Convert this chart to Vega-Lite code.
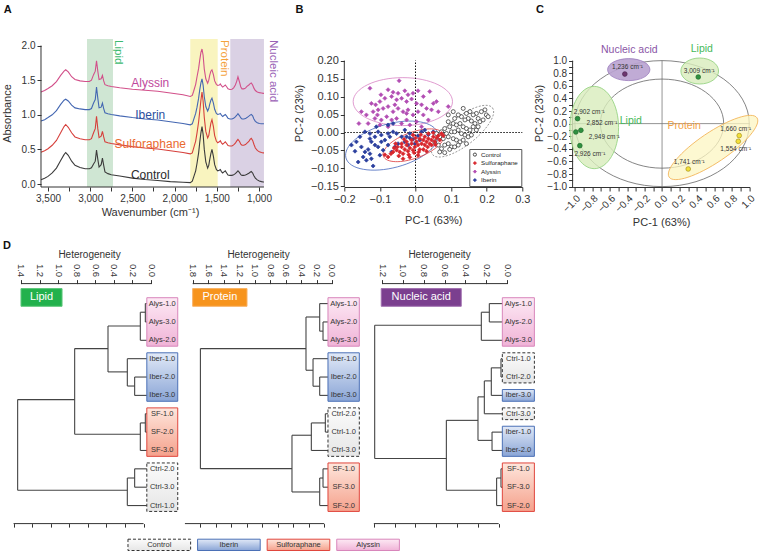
{
"background":"white",
"padding":{"left":1,"top":3,"right":2,"bottom":2},
"config":{
 "font":"Liberation Sans",
 "view":{"stroke":null},
 "axis":{"labelColor":"#333","titleColor":"#333","domainColor":"#333","tickColor":"#333","titleFontWeight":"normal","labelFontSize":10,"titleFontSize":11,"grid":false,"tickSize":4,"labelFlush":false,"labelOverlap":false,"labelPadding":2},
 "legend":{"orient":"bottom-right","offset":1,"strokeColor":"#555","padding":2.5,"labelFontSize":6.2,"symbolSize":10,"rowPadding":0.5,"labelOffset":3,"symbolStrokeWidth":0.8,"fillColor":"white","labelColor":"#222"}
},
"datasets":{
"spectra":[
{"s":"Ctrl","w":3583,"a":0.063},{"s":"Ctrl","w":3540,"a":0.085},{"s":"Ctrl","w":3500,"a":0.11},{"s":"Ctrl","w":3450,"a":0.16},{"s":"Ctrl","w":3400,"a":0.23},{"s":"Ctrl","w":3350,"a":0.34},{"s":"Ctrl","w":3310,"a":0.425},{"s":"Ctrl","w":3290,"a":0.455},{"s":"Ctrl","w":3260,"a":0.415},{"s":"Ctrl","w":3220,"a":0.33},{"s":"Ctrl","w":3180,"a":0.27},{"s":"Ctrl","w":3120,"a":0.24},{"s":"Ctrl","w":3060,"a":0.22},{"s":"Ctrl","w":3010,"a":0.22},{"s":"Ctrl","w":2985,"a":0.235},{"s":"Ctrl","w":2960,"a":0.29},{"s":"Ctrl","w":2940,"a":0.33},{"s":"Ctrl","w":2925,"a":0.49},{"s":"Ctrl","w":2910,"a":0.36},{"s":"Ctrl","w":2895,"a":0.245},{"s":"Ctrl","w":2870,"a":0.28},{"s":"Ctrl","w":2855,"a":0.375},{"s":"Ctrl","w":2840,"a":0.27},{"s":"Ctrl","w":2825,"a":0.175},{"s":"Ctrl","w":2790,"a":0.15},{"s":"Ctrl","w":2750,"a":0.135},{"s":"Ctrl","w":2650,"a":0.115},{"s":"Ctrl","w":2500,"a":0.085},{"s":"Ctrl","w":2350,"a":0.065},{"s":"Ctrl","w":2200,"a":0.05},{"s":"Ctrl","w":2050,"a":0.035},{"s":"Ctrl","w":1900,"a":0.025},{"s":"Ctrl","w":1814,"a":0.02},{"s":"Ctrl","w":1790,"a":0.04},{"s":"Ctrl","w":1774,"a":0.1},{"s":"Ctrl","w":1750,"a":0.19},{"s":"Ctrl","w":1734,"a":0.3},{"s":"Ctrl","w":1715,"a":0.45},{"s":"Ctrl","w":1702,"a":0.6},{"s":"Ctrl","w":1688,"a":0.74},{"s":"Ctrl","w":1675,"a":0.83},{"s":"Ctrl","w":1662,"a":0.72},{"s":"Ctrl","w":1648,"a":0.5},{"s":"Ctrl","w":1630,"a":0.32},{"s":"Ctrl","w":1608,"a":0.23},{"s":"Ctrl","w":1595,"a":0.27},{"s":"Ctrl","w":1584,"a":0.35},{"s":"Ctrl","w":1570,"a":0.44},{"s":"Ctrl","w":1557,"a":0.5},{"s":"Ctrl","w":1540,"a":0.4},{"s":"Ctrl","w":1525,"a":0.28},{"s":"Ctrl","w":1505,"a":0.21},{"s":"Ctrl","w":1489,"a":0.19},{"s":"Ctrl","w":1470,"a":0.2},{"s":"Ctrl","w":1458,"a":0.21},{"s":"Ctrl","w":1445,"a":0.18},{"s":"Ctrl","w":1430,"a":0.16},{"s":"Ctrl","w":1415,"a":0.175},{"s":"Ctrl","w":1399,"a":0.19},{"s":"Ctrl","w":1383,"a":0.16},{"s":"Ctrl","w":1367,"a":0.13},{"s":"Ctrl","w":1345,"a":0.125},{"s":"Ctrl","w":1320,"a":0.125},{"s":"Ctrl","w":1300,"a":0.135},{"s":"Ctrl","w":1280,"a":0.15},{"s":"Ctrl","w":1265,"a":0.17},{"s":"Ctrl","w":1249,"a":0.19},{"s":"Ctrl","w":1230,"a":0.165},{"s":"Ctrl","w":1215,"a":0.135},{"s":"Ctrl","w":1201,"a":0.125},{"s":"Ctrl","w":1180,"a":0.125},{"s":"Ctrl","w":1160,"a":0.13},{"s":"Ctrl","w":1142,"a":0.14},{"s":"Ctrl","w":1120,"a":0.155},{"s":"Ctrl","w":1105,"a":0.17},{"s":"Ctrl","w":1091,"a":0.18},{"s":"Ctrl","w":1075,"a":0.16},{"s":"Ctrl","w":1060,"a":0.12},{"s":"Ctrl","w":1043,"a":0.085},{"s":"Ctrl","w":1020,"a":0.06},{"s":"Ctrl","w":996,"a":0.045},{"s":"Ctrl","w":970,"a":0.035},{"s":"Ctrl","w":950,"a":0.03},{"s":"Ctrl","w":941,"a":0.03},
{"s":"SF","w":3583,"a":0.46},{"s":"SF","w":3540,"a":0.48},{"s":"SF","w":3500,"a":0.51},{"s":"SF","w":3450,"a":0.56},{"s":"SF","w":3400,"a":0.63},{"s":"SF","w":3350,"a":0.74},{"s":"SF","w":3310,"a":0.83},{"s":"SF","w":3290,"a":0.86},{"s":"SF","w":3260,"a":0.82},{"s":"SF","w":3220,"a":0.74},{"s":"SF","w":3180,"a":0.68},{"s":"SF","w":3120,"a":0.655},{"s":"SF","w":3060,"a":0.64},{"s":"SF","w":3010,"a":0.64},{"s":"SF","w":2985,"a":0.655},{"s":"SF","w":2960,"a":0.74},{"s":"SF","w":2940,"a":0.8},{"s":"SF","w":2925,"a":0.98},{"s":"SF","w":2910,"a":0.8},{"s":"SF","w":2895,"a":0.67},{"s":"SF","w":2870,"a":0.69},{"s":"SF","w":2855,"a":0.76},{"s":"SF","w":2840,"a":0.68},{"s":"SF","w":2825,"a":0.61},{"s":"SF","w":2790,"a":0.595},{"s":"SF","w":2750,"a":0.585},{"s":"SF","w":2650,"a":0.565},{"s":"SF","w":2500,"a":0.54},{"s":"SF","w":2350,"a":0.52},{"s":"SF","w":2200,"a":0.505},{"s":"SF","w":2050,"a":0.48},{"s":"SF","w":1900,"a":0.455},{"s":"SF","w":1814,"a":0.435},{"s":"SF","w":1790,"a":0.45},{"s":"SF","w":1774,"a":0.52},{"s":"SF","w":1750,"a":0.62},{"s":"SF","w":1734,"a":0.74},{"s":"SF","w":1715,"a":0.9},{"s":"SF","w":1702,"a":1.05},{"s":"SF","w":1688,"a":1.21},{"s":"SF","w":1675,"a":1.33},{"s":"SF","w":1662,"a":1.2},{"s":"SF","w":1648,"a":0.96},{"s":"SF","w":1630,"a":0.76},{"s":"SF","w":1608,"a":0.665},{"s":"SF","w":1595,"a":0.7},{"s":"SF","w":1584,"a":0.78},{"s":"SF","w":1570,"a":0.88},{"s":"SF","w":1557,"a":0.93},{"s":"SF","w":1540,"a":0.83},{"s":"SF","w":1525,"a":0.7},{"s":"SF","w":1505,"a":0.62},{"s":"SF","w":1489,"a":0.595},{"s":"SF","w":1470,"a":0.61},{"s":"SF","w":1458,"a":0.625},{"s":"SF","w":1445,"a":0.595},{"s":"SF","w":1430,"a":0.575},{"s":"SF","w":1415,"a":0.59},{"s":"SF","w":1399,"a":0.61},{"s":"SF","w":1383,"a":0.585},{"s":"SF","w":1367,"a":0.555},{"s":"SF","w":1345,"a":0.55},{"s":"SF","w":1320,"a":0.55},{"s":"SF","w":1300,"a":0.565},{"s":"SF","w":1280,"a":0.59},{"s":"SF","w":1265,"a":0.62},{"s":"SF","w":1249,"a":0.645},{"s":"SF","w":1230,"a":0.615},{"s":"SF","w":1215,"a":0.575},{"s":"SF","w":1201,"a":0.56},{"s":"SF","w":1180,"a":0.56},{"s":"SF","w":1160,"a":0.57},{"s":"SF","w":1142,"a":0.59},{"s":"SF","w":1120,"a":0.615},{"s":"SF","w":1105,"a":0.645},{"s":"SF","w":1091,"a":0.66},{"s":"SF","w":1075,"a":0.63},{"s":"SF","w":1060,"a":0.575},{"s":"SF","w":1043,"a":0.52},{"s":"SF","w":1020,"a":0.485},{"s":"SF","w":996,"a":0.465},{"s":"SF","w":970,"a":0.455},{"s":"SF","w":950,"a":0.45},{"s":"SF","w":941,"a":0.45},
{"s":"Iber","w":3583,"a":0.91},{"s":"Iber","w":3540,"a":0.93},{"s":"Iber","w":3500,"a":0.96},{"s":"Iber","w":3450,"a":1.0},{"s":"Iber","w":3400,"a":1.06},{"s":"Iber","w":3350,"a":1.15},{"s":"Iber","w":3310,"a":1.21},{"s":"Iber","w":3290,"a":1.225},{"s":"Iber","w":3260,"a":1.2},{"s":"Iber","w":3220,"a":1.14},{"s":"Iber","w":3180,"a":1.1},{"s":"Iber","w":3120,"a":1.085},{"s":"Iber","w":3060,"a":1.075},{"s":"Iber","w":3010,"a":1.075},{"s":"Iber","w":2985,"a":1.09},{"s":"Iber","w":2960,"a":1.17},{"s":"Iber","w":2940,"a":1.22},{"s":"Iber","w":2925,"a":1.4},{"s":"Iber","w":2910,"a":1.24},{"s":"Iber","w":2895,"a":1.1},{"s":"Iber","w":2870,"a":1.11},{"s":"Iber","w":2855,"a":1.17},{"s":"Iber","w":2840,"a":1.09},{"s":"Iber","w":2825,"a":1.03},{"s":"Iber","w":2790,"a":1.015},{"s":"Iber","w":2750,"a":1.005},{"s":"Iber","w":2650,"a":0.985},{"s":"Iber","w":2500,"a":0.96},{"s":"Iber","w":2350,"a":0.94},{"s":"Iber","w":2200,"a":0.925},{"s":"Iber","w":2050,"a":0.9},{"s":"Iber","w":1900,"a":0.875},{"s":"Iber","w":1814,"a":0.855},{"s":"Iber","w":1790,"a":0.87},{"s":"Iber","w":1774,"a":0.93},{"s":"Iber","w":1750,"a":1.02},{"s":"Iber","w":1734,"a":1.11},{"s":"Iber","w":1715,"a":1.24},{"s":"Iber","w":1702,"a":1.36},{"s":"Iber","w":1688,"a":1.46},{"s":"Iber","w":1675,"a":1.52},{"s":"Iber","w":1662,"a":1.43},{"s":"Iber","w":1648,"a":1.26},{"s":"Iber","w":1630,"a":1.12},{"s":"Iber","w":1608,"a":1.055},{"s":"Iber","w":1595,"a":1.09},{"s":"Iber","w":1584,"a":1.15},{"s":"Iber","w":1570,"a":1.21},{"s":"Iber","w":1557,"a":1.24},{"s":"Iber","w":1540,"a":1.17},{"s":"Iber","w":1525,"a":1.08},{"s":"Iber","w":1505,"a":1.02},{"s":"Iber","w":1489,"a":1.005},{"s":"Iber","w":1470,"a":1.01},{"s":"Iber","w":1458,"a":1.02},{"s":"Iber","w":1445,"a":0.995},{"s":"Iber","w":1430,"a":0.975},{"s":"Iber","w":1415,"a":0.99},{"s":"Iber","w":1399,"a":1.005},{"s":"Iber","w":1383,"a":0.98},{"s":"Iber","w":1367,"a":0.95},{"s":"Iber","w":1345,"a":0.94},{"s":"Iber","w":1320,"a":0.94},{"s":"Iber","w":1300,"a":0.95},{"s":"Iber","w":1280,"a":0.97},{"s":"Iber","w":1265,"a":0.99},{"s":"Iber","w":1249,"a":1.015},{"s":"Iber","w":1230,"a":0.985},{"s":"Iber","w":1215,"a":0.955},{"s":"Iber","w":1201,"a":0.94},{"s":"Iber","w":1180,"a":0.94},{"s":"Iber","w":1160,"a":0.945},{"s":"Iber","w":1142,"a":0.96},{"s":"Iber","w":1120,"a":0.98},{"s":"Iber","w":1105,"a":0.995},{"s":"Iber","w":1091,"a":1.005},{"s":"Iber","w":1075,"a":0.985},{"s":"Iber","w":1060,"a":0.94},{"s":"Iber","w":1043,"a":0.905},{"s":"Iber","w":1020,"a":0.885},{"s":"Iber","w":996,"a":0.875},{"s":"Iber","w":970,"a":0.87},{"s":"Iber","w":950,"a":0.87},{"s":"Iber","w":941,"a":0.87},
{"s":"Alys","w":3583,"a":1.33},{"s":"Alys","w":3540,"a":1.35},{"s":"Alys","w":3500,"a":1.38},{"s":"Alys","w":3450,"a":1.42},{"s":"Alys","w":3400,"a":1.48},{"s":"Alys","w":3350,"a":1.57},{"s":"Alys","w":3310,"a":1.63},{"s":"Alys","w":3290,"a":1.65},{"s":"Alys","w":3260,"a":1.62},{"s":"Alys","w":3220,"a":1.55},{"s":"Alys","w":3180,"a":1.51},{"s":"Alys","w":3120,"a":1.49},{"s":"Alys","w":3060,"a":1.48},{"s":"Alys","w":3010,"a":1.48},{"s":"Alys","w":2985,"a":1.5},{"s":"Alys","w":2960,"a":1.58},{"s":"Alys","w":2940,"a":1.63},{"s":"Alys","w":2925,"a":1.78},{"s":"Alys","w":2910,"a":1.63},{"s":"Alys","w":2895,"a":1.51},{"s":"Alys","w":2870,"a":1.52},{"s":"Alys","w":2855,"a":1.57},{"s":"Alys","w":2840,"a":1.49},{"s":"Alys","w":2825,"a":1.435},{"s":"Alys","w":2790,"a":1.42},{"s":"Alys","w":2750,"a":1.41},{"s":"Alys","w":2650,"a":1.39},{"s":"Alys","w":2500,"a":1.37},{"s":"Alys","w":2350,"a":1.355},{"s":"Alys","w":2200,"a":1.34},{"s":"Alys","w":2050,"a":1.315},{"s":"Alys","w":1900,"a":1.29},{"s":"Alys","w":1814,"a":1.265},{"s":"Alys","w":1790,"a":1.28},{"s":"Alys","w":1774,"a":1.34},{"s":"Alys","w":1750,"a":1.44},{"s":"Alys","w":1734,"a":1.55},{"s":"Alys","w":1715,"a":1.67},{"s":"Alys","w":1702,"a":1.79},{"s":"Alys","w":1688,"a":1.9},{"s":"Alys","w":1675,"a":1.95},{"s":"Alys","w":1662,"a":1.86},{"s":"Alys","w":1648,"a":1.66},{"s":"Alys","w":1630,"a":1.52},{"s":"Alys","w":1608,"a":1.455},{"s":"Alys","w":1595,"a":1.5},{"s":"Alys","w":1584,"a":1.57},{"s":"Alys","w":1570,"a":1.63},{"s":"Alys","w":1557,"a":1.65},{"s":"Alys","w":1540,"a":1.58},{"s":"Alys","w":1525,"a":1.49},{"s":"Alys","w":1505,"a":1.44},{"s":"Alys","w":1489,"a":1.425},{"s":"Alys","w":1470,"a":1.43},{"s":"Alys","w":1458,"a":1.445},{"s":"Alys","w":1445,"a":1.42},{"s":"Alys","w":1430,"a":1.4},{"s":"Alys","w":1415,"a":1.415},{"s":"Alys","w":1399,"a":1.43},{"s":"Alys","w":1383,"a":1.405},{"s":"Alys","w":1367,"a":1.375},{"s":"Alys","w":1345,"a":1.365},{"s":"Alys","w":1320,"a":1.37},{"s":"Alys","w":1300,"a":1.39},{"s":"Alys","w":1280,"a":1.43},{"s":"Alys","w":1265,"a":1.48},{"s":"Alys","w":1249,"a":1.55},{"s":"Alys","w":1230,"a":1.47},{"s":"Alys","w":1215,"a":1.4},{"s":"Alys","w":1201,"a":1.375},{"s":"Alys","w":1180,"a":1.375},{"s":"Alys","w":1160,"a":1.385},{"s":"Alys","w":1142,"a":1.41},{"s":"Alys","w":1120,"a":1.43},{"s":"Alys","w":1105,"a":1.45},{"s":"Alys","w":1091,"a":1.46},{"s":"Alys","w":1075,"a":1.43},{"s":"Alys","w":1060,"a":1.385},{"s":"Alys","w":1043,"a":1.35},{"s":"Alys","w":1020,"a":1.33},{"s":"Alys","w":996,"a":1.32},{"s":"Alys","w":970,"a":1.315},{"s":"Alys","w":950,"a":1.31},{"s":"Alys","w":941,"a":1.31}
],
"bands":[{"b":"Lipid","x1":3038,"x2":2730},{"b":"Protein","x1":1814,"x2":1489},{"b":"Nucleic acid","x1":1340,"x2":941}],
"bandLabels":[{"t":"Lipid","w":2670,"a":2.08},{"t":"Protein","w":1418,"a":2.08},{"t":"Nucleic acid","w":836,"a":2.08}],
"seriesLabels":[{"t":"Alyssin","w":2288,"a":1.46},{"t":"Iberin","w":2288,"a":1.0},{"t":"Sulforaphane","w":2288,"a":0.584},{"t":"Control","w":2288,"a":0.136}],
"pca":[
{"g":"Alyssin","x":-0.046,"y":0.144},{"g":"Alyssin","x":-0.128,"y":0.123},{"g":"Alyssin","x":-0.077,"y":0.119},{"g":"Alyssin","x":-0.063,"y":0.112},{"g":"Alyssin","x":-0.049,"y":0.109},{"g":"Alyssin","x":-0.03,"y":0.116},{"g":"Alyssin","x":-0.021,"y":0.105},{"g":"Alyssin","x":-0.007,"y":0.109},{"g":"Alyssin","x":0.007,"y":0.116},{"g":"Alyssin","x":0.022,"y":0.1},{"g":"Alyssin","x":0.04,"y":0.114},{"g":"Alyssin","x":0.05,"y":0.081},{"g":"Alyssin","x":0.059,"y":0.086},{"g":"Alyssin","x":0.092,"y":0.072},{"g":"Alyssin","x":-0.124,"y":0.081},{"g":"Alyssin","x":-0.112,"y":0.077},{"g":"Alyssin","x":-0.1,"y":0.086},{"g":"Alyssin","x":-0.086,"y":0.095},{"g":"Alyssin","x":-0.067,"y":0.1},{"g":"Alyssin","x":-0.053,"y":0.091},{"g":"Alyssin","x":-0.039,"y":0.095},{"g":"Alyssin","x":-0.025,"y":0.086},{"g":"Alyssin","x":-0.011,"y":0.093},{"g":"Alyssin","x":0.003,"y":0.081},{"g":"Alyssin","x":0.017,"y":0.077},{"g":"Alyssin","x":0.031,"y":0.067},{"g":"Alyssin","x":0.045,"y":0.063},{"g":"Alyssin","x":0.064,"y":0.058},{"g":"Alyssin","x":-0.152,"y":0.058},{"g":"Alyssin","x":-0.138,"y":0.049},{"g":"Alyssin","x":-0.119,"y":0.058},{"g":"Alyssin","x":-0.105,"y":0.063},{"g":"Alyssin","x":-0.091,"y":0.067},{"g":"Alyssin","x":-0.077,"y":0.072},{"g":"Alyssin","x":-0.063,"y":0.058},{"g":"Alyssin","x":-0.049,"y":0.067},{"g":"Alyssin","x":-0.035,"y":0.058},{"g":"Alyssin","x":-0.021,"y":0.063},{"g":"Alyssin","x":-0.007,"y":0.049},{"g":"Alyssin","x":0.007,"y":0.058},{"g":"Alyssin","x":0.022,"y":0.049},{"g":"Alyssin","x":0.036,"y":0.035},{"g":"Alyssin","x":-0.159,"y":0.025},{"g":"Alyssin","x":-0.133,"y":0.025},{"g":"Alyssin","x":-0.114,"y":0.039},{"g":"Alyssin","x":-0.096,"y":0.035},{"g":"Alyssin","x":-0.081,"y":0.044},{"g":"Alyssin","x":-0.067,"y":0.035},{"g":"Alyssin","x":-0.053,"y":0.039},{"g":"Alyssin","x":-0.039,"y":0.025},{"g":"Alyssin","x":-0.025,"y":0.035},{"g":"Alyssin","x":-0.016,"y":0.021},{"g":"Alyssin","x":0.003,"y":0.03},{"g":"Alyssin","x":0.017,"y":0.016},{"g":"Alyssin","x":-0.077,"y":0.016},{"g":"Alyssin","x":-0.1,"y":0.021},{"g":"Alyssin","x":-0.025,"y":0.053},{"g":"Alyssin","x":-0.058,"y":0.077},{"g":"Alyssin","x":-0.097,"y":0.105},{"g":"Alyssin","x":-0.107,"y":0.049},
{"g":"Iberin","x":-0.161,"y":-0.082},{"g":"Iberin","x":-0.147,"y":-0.068},{"g":"Iberin","x":-0.142,"y":-0.054},{"g":"Iberin","x":-0.133,"y":-0.047},{"g":"Iberin","x":-0.128,"y":-0.059},{"g":"Iberin","x":-0.124,"y":-0.073},{"g":"Iberin","x":-0.119,"y":-0.093},{"g":"Iberin","x":-0.138,"y":-0.077},{"g":"Iberin","x":-0.152,"y":-0.04},{"g":"Iberin","x":-0.166,"y":-0.026},{"g":"Iberin","x":-0.156,"y":-0.012},{"g":"Iberin","x":-0.142,"y":0.002},{"g":"Iberin","x":-0.128,"y":-0.003},{"g":"Iberin","x":-0.114,"y":-0.012},{"g":"Iberin","x":-0.105,"y":0.002},{"g":"Iberin","x":-0.096,"y":-0.007},{"g":"Iberin","x":-0.086,"y":-0.021},{"g":"Iberin","x":-0.072,"y":-0.012},{"g":"Iberin","x":-0.063,"y":0.002},{"g":"Iberin","x":-0.053,"y":-0.003},{"g":"Iberin","x":-0.039,"y":-0.012},{"g":"Iberin","x":-0.03,"y":0.007},{"g":"Iberin","x":-0.016,"y":-0.003},{"g":"Iberin","x":-0.007,"y":-0.019},{"g":"Iberin","x":0.007,"y":-0.009},{"g":"Iberin","x":0.017,"y":0.002},{"g":"Iberin","x":0.026,"y":0.007},{"g":"Iberin","x":0.036,"y":-0.006},{"g":"Iberin","x":0.05,"y":0.002},{"g":"Iberin","x":-0.105,"y":-0.04},{"g":"Iberin","x":-0.091,"y":-0.049},{"g":"Iberin","x":-0.077,"y":-0.035},{"g":"Iberin","x":-0.067,"y":-0.054},{"g":"Iberin","x":-0.1,"y":-0.063},{"g":"Iberin","x":-0.114,"y":-0.035},{"g":"Iberin","x":-0.124,"y":-0.026},{"g":"Iberin","x":-0.128,"y":-0.017},{"g":"Iberin","x":-0.077,"y":0.021},{"g":"Iberin","x":-0.063,"y":0.025},{"g":"Iberin","x":-0.11,"y":0.016},{"g":"Iberin","x":-0.18,"y":-0.035},{"g":"Iberin","x":-0.17,"y":-0.052},{"g":"Iberin","x":-0.03,"y":-0.026},{"g":"Iberin","x":-0.021,"y":-0.035},{"g":"Iberin","x":-0.049,"y":-0.031},{"g":"Iberin","x":-0.002,"y":-0.031},{"g":"Iberin","x":-0.016,"y":-0.015},{"g":"Iberin","x":-0.077,"y":-0.003},{"g":"Iberin","x":-0.096,"y":-0.026},{"g":"Iberin","x":-0.058,"y":-0.04},{"g":"Iberin","x":-0.025,"y":-0.012},{"g":"Iberin","x":0.012,"y":-0.021},
{"g":"Control","x":0.195,"y":0.063},{"g":"Control","x":0.199,"y":0.049},{"g":"Control","x":0.185,"y":0.058},{"g":"Control","x":0.171,"y":0.053},{"g":"Control","x":0.176,"y":0.039},{"g":"Control","x":0.162,"y":0.049},{"g":"Control","x":0.153,"y":0.058},{"g":"Control","x":0.143,"y":0.053},{"g":"Control","x":0.148,"y":0.039},{"g":"Control","x":0.157,"y":0.032},{"g":"Control","x":0.167,"y":0.025},{"g":"Control","x":0.181,"y":0.03},{"g":"Control","x":0.19,"y":0.035},{"g":"Control","x":0.204,"y":0.044},{"g":"Control","x":0.139,"y":0.035},{"g":"Control","x":0.129,"y":0.044},{"g":"Control","x":0.12,"y":0.049},{"g":"Control","x":0.11,"y":0.039},{"g":"Control","x":0.106,"y":0.025},{"g":"Control","x":0.115,"y":0.021},{"g":"Control","x":0.125,"y":0.025},{"g":"Control","x":0.134,"y":0.016},{"g":"Control","x":0.143,"y":0.011},{"g":"Control","x":0.153,"y":0.007},{"g":"Control","x":0.162,"y":0.016},{"g":"Control","x":0.171,"y":0.007},{"g":"Control","x":0.092,"y":0.03},{"g":"Control","x":0.096,"y":0.016},{"g":"Control","x":0.101,"y":0.002},{"g":"Control","x":0.11,"y":0.002},{"g":"Control","x":0.12,"y":0.007},{"g":"Control","x":0.129,"y":-0.003},{"g":"Control","x":0.139,"y":-0.007},{"g":"Control","x":0.148,"y":-0.012},{"g":"Control","x":0.157,"y":-0.007},{"g":"Control","x":0.082,"y":0.011},{"g":"Control","x":0.087,"y":-0.003},{"g":"Control","x":0.073,"y":0.002},{"g":"Control","x":0.068,"y":-0.012},{"g":"Control","x":0.078,"y":-0.017},{"g":"Control","x":0.092,"y":-0.012},{"g":"Control","x":0.106,"y":-0.017},{"g":"Control","x":0.115,"y":-0.021},{"g":"Control","x":0.125,"y":-0.026},{"g":"Control","x":0.134,"y":-0.021},{"g":"Control","x":0.143,"y":-0.031},{"g":"Control","x":0.092,"y":-0.031},{"g":"Control","x":0.101,"y":-0.04},{"g":"Control","x":0.082,"y":-0.035},{"g":"Control","x":0.073,"y":-0.045},{"g":"Control","x":0.064,"y":-0.035},{"g":"Control","x":0.068,"y":-0.054},{"g":"Control","x":0.082,"y":-0.056},{"g":"Control","x":0.096,"y":-0.047},{"g":"Control","x":0.11,"y":-0.04},{"g":"Control","x":0.12,"y":-0.035},{"g":"Control","x":0.054,"y":-0.026},{"g":"Control","x":0.106,"y":0.058},{"g":"Control","x":0.134,"y":0.067},{"g":"Control","x":0.176,"y":0.016},{"g":"Control","x":0.059,"y":-0.003},{"g":"Control","x":0.092,"y":0.049},
{"g":"Sulforaphane","x":-0.077,"y":-0.068},{"g":"Sulforaphane","x":-0.063,"y":-0.054},{"g":"Sulforaphane","x":-0.053,"y":-0.049},{"g":"Sulforaphane","x":-0.044,"y":-0.054},{"g":"Sulforaphane","x":-0.039,"y":-0.04},{"g":"Sulforaphane","x":-0.035,"y":-0.059},{"g":"Sulforaphane","x":-0.03,"y":-0.047},{"g":"Sulforaphane","x":-0.025,"y":-0.035},{"g":"Sulforaphane","x":-0.021,"y":-0.052},{"g":"Sulforaphane","x":-0.016,"y":-0.043},{"g":"Sulforaphane","x":-0.011,"y":-0.031},{"g":"Sulforaphane","x":-0.007,"y":-0.049},{"g":"Sulforaphane","x":-0.002,"y":-0.04},{"g":"Sulforaphane","x":0.003,"y":-0.026},{"g":"Sulforaphane","x":0.007,"y":-0.035},{"g":"Sulforaphane","x":0.012,"y":-0.047},{"g":"Sulforaphane","x":0.017,"y":-0.031},{"g":"Sulforaphane","x":0.022,"y":-0.021},{"g":"Sulforaphane","x":0.026,"y":-0.035},{"g":"Sulforaphane","x":0.031,"y":-0.026},{"g":"Sulforaphane","x":0.036,"y":-0.017},{"g":"Sulforaphane","x":0.04,"y":-0.031},{"g":"Sulforaphane","x":0.045,"y":-0.021},{"g":"Sulforaphane","x":0.05,"y":-0.012},{"g":"Sulforaphane","x":0.054,"y":-0.026},{"g":"Sulforaphane","x":0.059,"y":-0.015},{"g":"Sulforaphane","x":0.064,"y":-0.009},{"g":"Sulforaphane","x":0.073,"y":-0.003},{"g":"Sulforaphane","x":-0.047,"y":-0.065},{"g":"Sulforaphane","x":-0.035,"y":-0.073},{"g":"Sulforaphane","x":-0.019,"y":-0.062},{"g":"Sulforaphane","x":-0.004,"y":-0.056},{"g":"Sulforaphane","x":0.009,"y":-0.054},{"g":"Sulforaphane","x":0.022,"y":-0.047},{"g":"Sulforaphane","x":0.034,"y":-0.04},{"g":"Sulforaphane","x":0.045,"y":-0.035},{"g":"Sulforaphane","x":0.056,"y":-0.034},{"g":"Sulforaphane","x":0.068,"y":-0.021},{"g":"Sulforaphane","x":0.026,"y":-0.012},{"g":"Sulforaphane","x":0.012,"y":-0.017},{"g":"Sulforaphane","x":0.0,"y":-0.015},{"g":"Sulforaphane","x":-0.011,"y":-0.021},{"g":"Sulforaphane","x":-0.025,"y":-0.026},{"g":"Sulforaphane","x":-0.039,"y":-0.031},{"g":"Sulforaphane","x":-0.051,"y":-0.04},{"g":"Sulforaphane","x":-0.06,"y":-0.043},{"g":"Sulforaphane","x":-0.069,"y":-0.059},{"g":"Sulforaphane","x":-0.032,"y":-0.019},{"g":"Sulforaphane","x":-0.007,"y":-0.007},{"g":"Sulforaphane","x":0.015,"y":-0.006},{"g":"Sulforaphane","x":0.036,"y":-0.003},{"g":"Sulforaphane","x":0.05,"y":-0.001},{"g":"Sulforaphane","x":0.078,"y":-0.009},{"g":"Sulforaphane","x":0.031,"y":-0.052},{"g":"Sulforaphane","x":0.007,"y":-0.063},{"g":"Sulforaphane","x":-0.016,"y":-0.069},{"g":"Sulforaphane","x":-0.086,"y":-0.062},{"g":"Sulforaphane","x":-0.056,"y":-0.031}
],
"ellB":[{"g":"Alyssin","x":-0.0356,"y":0.0859},{"g":"Iberin","x":-0.0665,"y":-0.0364},{"g":"Sulforaphane","x":-0.0056,"y":-0.0355},{"g":"Control","x":0.132,"y":0.0037}],
"ellC":[{"e":"outer","x":0,"y":0},{"e":"inner","x":0,"y":0},{"e":"nuc","x":-0.382,"y":0.857},{"e":"lipT","x":0.432,"y":0.835},{"e":"lipL","x":-0.778,"y":-0.062},{"e":"prot","x":0.585,"y":-0.379}],
"loadPts":[{"grp":"Lipid","x":-0.969,"y":0.079},{"grp":"Lipid","x":-0.931,"y":-0.106},{"grp":"Lipid","x":-0.989,"y":-0.133},{"grp":"Lipid","x":-0.943,"y":-0.35},{"grp":"Lipid","x":0.415,"y":0.74},{"grp":"Nucleic acid","x":-0.427,"y":0.787},{"grp":"Protein","x":0.885,"y":-0.19},{"grp":"Protein","x":0.874,"y":-0.281},{"grp":"Protein","x":0.3,"y":-0.72}],
"loadLabels":[{"t":"2,902 cm⁻¹","x":-0.835,"y":0.184},{"t":"2,852 cm⁻¹","x":-0.69,"y":0.016},{"t":"2,949 cm⁻¹","x":-0.663,"y":-0.213},{"t":"2,926 cm⁻¹","x":-0.828,"y":-0.482},{"t":"1,236 cm⁻¹","x":-0.396,"y":0.894},{"t":"3,009 cm⁻¹","x":0.427,"y":0.84},{"t":"1,660 cm⁻¹","x":0.846,"y":-0.08},{"t":"1,554 cm⁻¹","x":0.846,"y":-0.397},{"t":"1,741 cm⁻¹","x":0.312,"y":-0.609}],
"groupLabels":[{"t":"Nucleic acid","grp":"Nucleic acid","x":-0.376,"y":1.175},{"t":"Lipid","grp":"Lipid","x":0.456,"y":1.19},{"t":"Lipid","grp":"Lipid","x":-0.358,"y":0.048},{"t":"Protein","grp":"Protein","x":0.254,"y":-0.032}],
"tree":[
{"p":"L","x1":0,"x2":0.061,"y1":0,"y2":0},{"p":"L","x1":0,"x2":0.061,"y1":1,"y2":1},{"p":"L","x1":0.061,"x2":0.061,"y1":0,"y2":1},{"p":"L","x1":0.061,"x2":0.115,"y1":0.47,"y2":0.47},{"p":"L","x1":0,"x2":0.115,"y1":2,"y2":2},{"p":"L","x1":0.115,"x2":0.115,"y1":0.47,"y2":2},{"p":"L","x1":0.115,"x2":0.463,"y1":1.22,"y2":1.22},{"p":"L","x1":0,"x2":0.176,"y1":4,"y2":4},{"p":"L","x1":0,"x2":0.176,"y1":5,"y2":5},{"p":"L","x1":0.176,"x2":0.176,"y1":4,"y2":5},{"p":"L","x1":0.176,"x2":0.255,"y1":4.49,"y2":4.49},{"p":"L","x1":0,"x2":0.255,"y1":3,"y2":3},{"p":"L","x1":0.255,"x2":0.255,"y1":3,"y2":4.49},{"p":"L","x1":0.255,"x2":0.463,"y1":3.72,"y2":3.72},{"p":"L","x1":0.463,"x2":0.463,"y1":1.22,"y2":3.72},{"p":"L","x1":0.463,"x2":0.822,"y1":2.45,"y2":2.45},{"p":"L","x1":0,"x2":0.061,"y1":6,"y2":6},{"p":"L","x1":0,"x2":0.061,"y1":7,"y2":7},{"p":"L","x1":0.061,"x2":0.061,"y1":6,"y2":7},{"p":"L","x1":0.061,"x2":0.115,"y1":6.5,"y2":6.5},{"p":"L","x1":0,"x2":0.115,"y1":8,"y2":8},{"p":"L","x1":0.115,"x2":0.115,"y1":6.5,"y2":8},{"p":"L","x1":0.115,"x2":0.822,"y1":7.12,"y2":7.12},{"p":"L","x1":0.822,"x2":0.822,"y1":2.45,"y2":7.12},{"p":"L","x1":0.822,"x2":1.436,"y1":5.23,"y2":5.23},{"p":"L","x1":0,"x2":0.176,"y1":9,"y2":9},{"p":"L","x1":0,"x2":0.176,"y1":10,"y2":10},{"p":"L","x1":0.176,"x2":0.176,"y1":9,"y2":10},{"p":"L","x1":0.176,"x2":0.255,"y1":9.5,"y2":9.5},{"p":"L","x1":0,"x2":0.255,"y1":11,"y2":11},{"p":"L","x1":0.255,"x2":0.255,"y1":9.5,"y2":11},{"p":"L","x1":0.255,"x2":1.436,"y1":10.17,"y2":10.17},{"p":"L","x1":1.436,"x2":1.436,"y1":5.23,"y2":10.17},
{"p":"P","x1":0,"x2":0.116,"y1":1,"y2":1},{"p":"P","x1":0,"x2":0.116,"y1":2,"y2":2},{"p":"P","x1":0.116,"x2":0.116,"y1":1,"y2":2},{"p":"P","x1":0.116,"x2":0.159,"y1":1.5,"y2":1.5},{"p":"P","x1":0,"x2":0.159,"y1":0,"y2":0},{"p":"P","x1":0.159,"x2":0.159,"y1":0,"y2":1.5},{"p":"P","x1":0.159,"x2":0.336,"y1":0.73,"y2":0.73},{"p":"P","x1":0,"x2":0.159,"y1":4,"y2":4},{"p":"P","x1":0,"x2":0.159,"y1":5,"y2":5},{"p":"P","x1":0.159,"x2":0.159,"y1":4,"y2":5},{"p":"P","x1":0.159,"x2":0.245,"y1":4.5,"y2":4.5},{"p":"P","x1":0,"x2":0.245,"y1":3,"y2":3},{"p":"P","x1":0.245,"x2":0.245,"y1":3,"y2":4.5},{"p":"P","x1":0.245,"x2":0.336,"y1":3.63,"y2":3.63},{"p":"P","x1":0.336,"x2":0.336,"y1":0.73,"y2":3.63},{"p":"P","x1":0.336,"x2":1.7,"y1":2.45,"y2":2.45},{"p":"P","x1":0,"x2":0.086,"y1":6,"y2":6},{"p":"P","x1":0,"x2":0.086,"y1":7,"y2":7},{"p":"P","x1":0.086,"x2":0.086,"y1":6,"y2":7},{"p":"P","x1":0.086,"x2":0.267,"y1":6.5,"y2":6.5},{"p":"P","x1":0,"x2":0.267,"y1":8,"y2":8},{"p":"P","x1":0.267,"x2":0.267,"y1":6.5,"y2":8},{"p":"P","x1":0.267,"x2":0.517,"y1":7.17,"y2":7.17},{"p":"P","x1":0,"x2":0.116,"y1":9,"y2":9},{"p":"P","x1":0,"x2":0.116,"y1":10,"y2":10},{"p":"P","x1":0.116,"x2":0.116,"y1":9,"y2":10},{"p":"P","x1":0.116,"x2":0.159,"y1":9.5,"y2":9.5},{"p":"P","x1":0,"x2":0.159,"y1":11,"y2":11},{"p":"P","x1":0.159,"x2":0.159,"y1":9.5,"y2":11},{"p":"P","x1":0.159,"x2":0.517,"y1":10.26,"y2":10.26},{"p":"P","x1":0.517,"x2":0.517,"y1":7.17,"y2":10.26},{"p":"P","x1":0.517,"x2":1.7,"y1":8.99,"y2":8.99},{"p":"P","x1":1.7,"x2":1.7,"y1":2.45,"y2":8.99},
{"p":"N","x1":0,"x2":0.17,"y1":0,"y2":0},{"p":"N","x1":0,"x2":0.17,"y1":1,"y2":1},{"p":"N","x1":0.17,"x2":0.17,"y1":0,"y2":1},{"p":"N","x1":0.17,"x2":0.247,"y1":0.47,"y2":0.47},{"p":"N","x1":0,"x2":0.247,"y1":2,"y2":2},{"p":"N","x1":0.247,"x2":0.247,"y1":0.47,"y2":2},{"p":"N","x1":0.247,"x2":1.272,"y1":1.18,"y2":1.18},{"p":"N","x1":0,"x2":0.058,"y1":3,"y2":3},{"p":"N","x1":0,"x2":0.058,"y1":4,"y2":4},{"p":"N","x1":0.058,"x2":0.058,"y1":3,"y2":4},{"p":"N","x1":0.058,"x2":0.151,"y1":3.5,"y2":3.5},{"p":"N","x1":0,"x2":0.151,"y1":5,"y2":5},{"p":"N","x1":0.151,"x2":0.151,"y1":3.5,"y2":5},{"p":"N","x1":0.151,"x2":0.218,"y1":4.21,"y2":4.21},{"p":"N","x1":0,"x2":0.218,"y1":6,"y2":6},{"p":"N","x1":0.218,"x2":0.218,"y1":4.21,"y2":6},{"p":"N","x1":0.218,"x2":0.279,"y1":5.08,"y2":5.08},{"p":"N","x1":0,"x2":0.144,"y1":7,"y2":7},{"p":"N","x1":0,"x2":0.144,"y1":8,"y2":8},{"p":"N","x1":0.144,"x2":0.144,"y1":7,"y2":8},{"p":"N","x1":0.144,"x2":0.279,"y1":7.45,"y2":7.45},{"p":"N","x1":0.279,"x2":0.279,"y1":5.08,"y2":7.45},{"p":"N","x1":0.279,"x2":0.583,"y1":6.36,"y2":6.36},{"p":"N","x1":0,"x2":0.058,"y1":9,"y2":9},{"p":"N","x1":0,"x2":0.058,"y1":10,"y2":10},{"p":"N","x1":0.058,"x2":0.058,"y1":9,"y2":10},{"p":"N","x1":0.058,"x2":0.1,"y1":9.5,"y2":9.5},{"p":"N","x1":0,"x2":0.1,"y1":11,"y2":11},{"p":"N","x1":0.1,"x2":0.1,"y1":9.5,"y2":11},{"p":"N","x1":0.1,"x2":0.583,"y1":10.17,"y2":10.17},{"p":"N","x1":0.583,"x2":0.583,"y1":6.36,"y2":10.17},{"p":"N","x1":0.583,"x2":1.272,"y1":8.44,"y2":8.44},{"p":"N","x1":1.272,"x2":1.272,"y1":1.18,"y2":8.44}
],
"leaves":[
{"p":"L","n":"Alys-1.0","i":0},{"p":"L","n":"Alys-3.0","i":1},{"p":"L","n":"Alys-2.0","i":2},{"p":"L","n":"Iber-1.0","i":3},{"p":"L","n":"Iber-2.0","i":4},{"p":"L","n":"Iber-3.0","i":5},{"p":"L","n":"SF-1.0","i":6},{"p":"L","n":"SF-2.0","i":7},{"p":"L","n":"SF-3.0","i":8},{"p":"L","n":"Ctrl-2.0","i":9},{"p":"L","n":"Ctrl-3.0","i":10},{"p":"L","n":"Ctrl-1.0","i":11},
{"p":"P","n":"Alys-1.0","i":0},{"p":"P","n":"Alys-2.0","i":1},{"p":"P","n":"Alys-3.0","i":2},{"p":"P","n":"Iber-1.0","i":3},{"p":"P","n":"Iber-2.0","i":4},{"p":"P","n":"Iber-3.0","i":5},{"p":"P","n":"Ctrl-2.0","i":6},{"p":"P","n":"Ctrl-1.0","i":7},{"p":"P","n":"Ctrl-3.0","i":8},{"p":"P","n":"SF-1.0","i":9},{"p":"P","n":"SF-3.0","i":10},{"p":"P","n":"SF-2.0","i":11},
{"p":"N","n":"Alys-1.0","i":0},{"p":"N","n":"Alys-2.0","i":1},{"p":"N","n":"Alys-3.0","i":2},{"p":"N","n":"Ctrl-1.0","i":3},{"p":"N","n":"Ctrl-2.0","i":4},{"p":"N","n":"Iber-3.0","i":5},{"p":"N","n":"Ctrl-3.0","i":6},{"p":"N","n":"Iber-1.0","i":7},{"p":"N","n":"Iber-2.0","i":8},{"p":"N","n":"SF-1.0","i":9},{"p":"N","n":"SF-3.0","i":10},{"p":"N","n":"SF-2.0","i":11}
],
"boxes":[
{"p":"L","g":"A","y1":-0.32,"y2":2.32},{"p":"L","g":"I","y1":2.68,"y2":5.32},{"p":"L","g":"S","y1":5.68,"y2":8.32},{"p":"L","g":"C","y1":8.68,"y2":11.32},
{"p":"P","g":"A","y1":-0.32,"y2":2.32},{"p":"P","g":"I","y1":2.68,"y2":5.32},{"p":"P","g":"C","y1":5.68,"y2":8.32},{"p":"P","g":"S","y1":8.68,"y2":11.32},
{"p":"N","g":"A","y1":-0.32,"y2":2.32},{"p":"N","g":"C","y1":2.68,"y2":4.32},{"p":"N","g":"I","y1":4.68,"y2":5.32},{"p":"N","g":"C","y1":5.68,"y2":6.32},{"p":"N","g":"I","y1":6.68,"y2":8.32},{"p":"N","g":"S","y1":8.68,"y2":11.32}
]
},
"vconcat":[
{"hconcat":[
{"width":280.4,"height":148,
 "resolve":{"scale":{"color":"independent","fill":"independent"}},
 "layer":[
  {"data":{"name":"bands"},"mark":{"type":"rect"},
   "encoding":{
    "x":{"field":"x1","type":"quantitative","scale":{"domain":[592,3914.75],"reverse":true,"nice":false,"zero":false},"axis":{"values":[3500,3250,3000,2750,2500,2250,2000,1750,1500,1250,1000],"labelExpr":"datum.value % 500 === 0 ? format(datum.value, ',') : ''","title":"Wavenumber (cm⁻¹)","titleX":137,"domain":false,"titlePadding":3,"labelOverlap":false,"tickCount":50}},
    "x2":{"field":"x2"},
    "fill":{"field":"b","type":"nominal","scale":{"domain":["Lipid","Protein","Nucleic acid"],"range":["#cfe6d3","#f9f4bf","#dad1e4"]},"legend":null}}},
  {"data":{"name":"spectra"},"mark":{"type":"line","strokeWidth":1.1},
   "encoding":{
    "x":{"field":"w","type":"quantitative"},
    "y":{"field":"a","type":"quantitative","scale":{"domain":[-0.043,2.095],"nice":false,"zero":false},"axis":{"values":[0,0.5,1,1.5,2],"format":".1f","title":"Absorbance","domain":false,"offset":-28,"titlePadding":9,"labelOverlap":false,"tickCount":50}},
    "color":{"field":"s","type":"nominal","scale":{"domain":["Ctrl","SF","Iber","Alys"],"range":["#3c3c3c","#d6403c","#4467b2","#d2508a"]},"legend":null}}},
  {"data":{"values":[{}]},"mark":{"type":"rule","color":"#333"},"encoding":{"x":{"datum":3583},"x2":{"datum":941},"y":{"datum":-0.043}}},
  {"data":{"values":[{}]},"mark":{"type":"rule","color":"#333"},"encoding":{"x":{"datum":3583},"y":{"datum":-0.043},"y2":{"datum":2.0}}},
  {"data":{"name":"bandLabels"},"mark":{"type":"text","angle":90,"align":"left","baseline":"middle","fontSize":11.5},
   "encoding":{"x":{"field":"w","type":"quantitative"},"y":{"field":"a","type":"quantitative"},"text":{"field":"t"},
    "color":{"field":"t","type":"nominal","scale":{"domain":["Lipid","Protein","Nucleic acid"],"range":["#3dba6f","#f4a23c","#9a62b6"]},"legend":null}}},
  {"data":{"name":"seriesLabels"},"mark":{"type":"text","fontSize":12},
   "encoding":{"x":{"field":"w","type":"quantitative"},"y":{"field":"a","type":"quantitative"},"text":{"field":"t"},
    "color":{"field":"t","type":"nominal","scale":{"domain":["Alyssin","Iberin","Sulforaphane","Control"],"range":["#c0479c","#2d4f9e","#ea6a30","#2a2a2a"]},"legend":null}}},
  {"data":{"values":[{}]},"mark":{"type":"text","text":"A","fontSize":11,"fontWeight":"bold","align":"left","baseline":"alphabetic","color":"#111"},"encoding":{"x":{"datum":4025},"y":{"datum":2.471}}}
 ]},
{"width":178,"height":148,
 "layer":[
  {"data":{"name":"ellB"},"transform":[{"filter":"datum.g === 'Alyssin'"}],"mark":{"type":"point","shape":"M1,0C1,0.267 0.552,0.483 0,0.483C-0.552,0.483 -1,0.267 -1,0C-1,-0.267 -0.552,-0.483 0,-0.483C0.552,-0.483 1,-0.267 1,0Z","size":9860,"filled":false,"stroke":"#d883c4","strokeWidth":0.8,"opacity":1},"encoding":{"x":{"field":"x","type":"quantitative"},"y":{"field":"y","type":"quantitative"}}},
  {"data":{"name":"ellB"},"transform":[{"filter":"datum.g === 'Iberin'"}],"mark":{"type":"point","shape":"M1,0C1,0.256 0.552,0.463 0,0.463C-0.552,0.463 -1,0.256 -1,0C-1,-0.256 -0.552,-0.463 0,-0.463C0.552,-0.463 1,-0.256 1,0Z","size":9025,"angle":-15,"filled":false,"stroke":"#5573c2","strokeWidth":0.8,"opacity":1},"encoding":{"x":{"field":"x","type":"quantitative"},"y":{"field":"y","type":"quantitative"}}},
  {"data":{"name":"ellB"},"transform":[{"filter":"datum.g === 'Sulforaphane'"}],"mark":{"type":"point","shape":"M1,0C1,0.224 0.552,0.406 0,0.406C-0.552,0.406 -1,0.224 -1,0C-1,-0.224 -0.552,-0.406 0,-0.406C0.552,-0.406 1,-0.224 1,0Z","size":4096,"angle":-20,"filled":false,"stroke":"#e04a4a","strokeWidth":0.8,"opacity":1},"encoding":{"x":{"field":"x","type":"quantitative"},"y":{"field":"y","type":"quantitative"}}},
  {"data":{"name":"ellB"},"transform":[{"filter":"datum.g === 'Control'"}],"mark":{"type":"point","shape":"M1,0C1,0.204 0.552,0.37 0,0.37C-0.552,0.37 -1,0.204 -1,0C-1,-0.204 -0.552,-0.37 0,-0.37C0.552,-0.37 1,-0.204 1,0Z","size":5776,"angle":-38,"filled":false,"stroke":"#8a8a8a","strokeDash":[2,1.5],"strokeWidth":0.8,"opacity":1},"encoding":{"x":{"field":"x","type":"quantitative"},"y":{"field":"y","type":"quantitative"}}},
  {"data":{"values":[{}]},"mark":{"type":"rule","color":"#111","strokeDash":[1.5,1.5]},"encoding":{"x":{"datum":0},"y":{"datum":-0.1515},"y2":{"datum":0.2}}},
  {"data":{"values":[{}]},"mark":{"type":"rule","color":"#111","strokeDash":[1.5,1.5]},"encoding":{"x":{"datum":-0.2},"x2":{"datum":0.3},"y":{"datum":0}}},
  {"data":{"values":[{}]},"mark":{"type":"rule","color":"#333"},"encoding":{"x":{"datum":-0.2},"y":{"datum":-0.1515},"y2":{"datum":0.2}}},
  {"data":{"name":"pca"},"mark":{"type":"point","size":16,"filled":true,"opacity":1,"strokeWidth":0.7},
   "encoding":{
    "x":{"field":"x","type":"quantitative","scale":{"domain":[-0.2,0.3],"nice":false,"zero":false},"axis":{"values":[-0.2,-0.1,0,0.1,0.2,0.3],"format":".1f","title":"PC-1 (63%)","labelFontSize":11,"titlePadding":10,"labelOverlap":false,"tickCount":50}},
    "y":{"field":"y","type":"quantitative","scale":{"domain":[-0.1515,0.26],"nice":false,"zero":false},"axis":{"values":[-0.15,-0.1,-0.05,0,0.05,0.1,0.15,0.2],"format":".2f","title":"PC-2 (23%)","labelFontSize":11,"domain":false,"titlePadding":6,"labelOverlap":false,"tickCount":50}},
    "shape":{"field":"g","type":"nominal","scale":{"domain":["Control","Sulforaphane","Alyssin","Iberin"],"range":["circle","diamond","diamond","diamond"]},"legend":{"title":null}},
    "fill":{"field":"g","type":"nominal","scale":{"domain":["Control","Sulforaphane","Alyssin","Iberin"],"range":["#ffffff","#d8262c","#b24db3","#2b3f9e"]},"legend":{"title":null}},
    "stroke":{"field":"g","type":"nominal","scale":{"domain":["Control","Sulforaphane","Alyssin","Iberin"],"range":["#222222","#d8262c","#b24db3","#2b3f9e"]},"legend":{"title":null}}}},
  {"data":{"values":[{}]},"mark":{"type":"text","text":"B","fontSize":11,"fontWeight":"bold","align":"left","baseline":"alphabetic","color":"#111"},"encoding":{"x":{"datum":-0.3368},"y":{"datum":0.3323}}}
 ]},
{"width":177,"height":148,
 "layer":[
  {"data":{"values":[{}]},"mark":{"type":"rule","color":"#777","strokeWidth":0.8},"encoding":{"x":{"datum":0},"y":{"datum":-1.006},"y2":{"datum":1.0}}},
  {"data":{"values":[{}]},"mark":{"type":"rule","color":"#777","strokeWidth":0.8},"encoding":{"x":{"datum":-1.026},"x2":{"datum":1.004},"y":{"datum":0}}},
  {"data":{"values":[{}]},"mark":{"type":"rule","color":"#333"},"encoding":{"x":{"datum":-1.026},"y":{"datum":-1.006},"y2":{"datum":1.0}}},
  {"data":{"name":"ellC"},"transform":[{"filter":"datum.e === 'outer'"}],"mark":{"type":"point","shape":"M1,0C1,0.399 0.552,0.7225 0,0.7225C-0.552,0.7225 -1,0.399 -1,0C-1,-0.399 -0.552,-0.7225 0,-0.7225C0.552,-0.7225 1,-0.399 1,0Z","size":30415,"filled":false,"stroke":"#666","strokeWidth":0.8,"opacity":1},"encoding":{"x":{"field":"x","type":"quantitative"},"y":{"field":"y","type":"quantitative"}}},
  {"data":{"name":"ellC"},"transform":[{"filter":"datum.e === 'inner'"}],"mark":{"type":"point","shape":"M1,0C1,0.399 0.552,0.7225 0,0.7225C-0.552,0.7225 -1,0.399 -1,0C-1,-0.399 -0.552,-0.7225 0,-0.7225C0.552,-0.7225 1,-0.399 1,0Z","size":15203,"filled":false,"stroke":"#666","strokeWidth":0.8,"opacity":1},"encoding":{"x":{"field":"x","type":"quantitative"},"y":{"field":"y","type":"quantitative"}}},
  {"data":{"name":"ellC"},"transform":[{"filter":"datum.e === 'nuc'"}],"mark":{"type":"point","shape":"M1,0C1,0.287 0.552,0.52 0,0.52C-0.552,0.52 -1,0.287 -1,0C-1,-0.287 -0.552,-0.52 0,-0.52C0.552,-0.52 1,-0.287 1,0Z","size":1789,"filled":true,"fill":"#b9a2d0","fillOpacity":0.9,"stroke":"#9a7bbd","strokeWidth":0.8,"opacity":1},"encoding":{"x":{"field":"x","type":"quantitative"},"y":{"field":"y","type":"quantitative"}}},
  {"data":{"name":"ellC"},"transform":[{"filter":"datum.e === 'lipT'"}],"mark":{"type":"point","shape":"M1,0C1,0.381 0.552,0.69 0,0.69C-0.552,0.69 -1,0.381 -1,0C-1,-0.381 -0.552,-0.69 0,-0.69C0.552,-0.69 1,-0.381 1,0Z","size":1421,"filled":true,"fill":"#d8ecbc","fillOpacity":0.8,"stroke":"#8dcf78","strokeWidth":0.8,"opacity":1},"encoding":{"x":{"field":"x","type":"quantitative"},"y":{"field":"y","type":"quantitative"}}},
  {"data":{"name":"ellC"},"transform":[{"filter":"datum.e === 'lipL'"}],"mark":{"type":"point","shape":"M1,0C1,0.327 0.552,0.592 0,0.592C-0.552,0.592 -1,0.327 -1,0C-1,-0.327 -0.552,-0.592 0,-0.592C0.552,-0.592 1,-0.327 1,0Z","size":6773,"angle":90,"filled":true,"fill":"#d8ecbc","fillOpacity":0.8,"stroke":"#8dcf78","strokeWidth":0.8,"opacity":1},"encoding":{"x":{"field":"x","type":"quantitative"},"y":{"field":"y","type":"quantitative"}}},
  {"data":{"name":"ellC"},"transform":[{"filter":"datum.e === 'prot'"}],"mark":{"type":"point","shape":"M1,0C1,0.156 0.552,0.283 0,0.283C-0.552,0.283 -1,0.156 -1,0C-1,-0.156 -0.552,-0.283 0,-0.283C0.552,-0.283 1,-0.156 1,0Z","size":11236,"angle":-34,"filled":true,"fill":"#fcf5c2","fillOpacity":0.75,"stroke":"#f3b55a","strokeWidth":0.8,"opacity":1},"encoding":{"x":{"field":"x","type":"quantitative"},"y":{"field":"y","type":"quantitative"}}},
  {"data":{"name":"loadPts"},"mark":{"type":"point","size":22,"filled":true,"opacity":1,"strokeWidth":0.7},
   "encoding":{
    "x":{"field":"x","type":"quantitative","scale":{"domain":[-1.026,1.004],"nice":false,"zero":false},"axis":{"values":[-1,-0.9,-0.8,-0.7,-0.6,-0.5,-0.4,-0.3,-0.2,-0.1,0,0.1,0.2,0.3,0.4,0.5,0.6,0.7,0.8,0.9,1],"labelExpr":"abs(round(datum.value*10)) % 2 === 0 ? format(datum.value, '.1f') : ''","labelAngle":-45,"labelAlign":"right","labelBaseline":"top","title":"PC-1 (63%)","titlePadding":2,"labelOverlap":false,"tickCount":50}},
    "y":{"field":"y","type":"quantitative","scale":{"domain":[-1.006,1.343],"nice":false,"zero":false},"axis":{"values":[-1,-0.9,-0.8,-0.7,-0.6,-0.5,-0.4,-0.3,-0.2,-0.1,0,0.1,0.2,0.3,0.4,0.5,0.6,0.7,0.8,0.9,1],"labelExpr":"abs(round(datum.value*10)) % 2 === 0 ? format(datum.value, '.1f') : ''","title":"PC-2 (23%)","domain":false,"titlePadding":2,"labelOverlap":false,"tickCount":50}},
    "fill":{"field":"grp","type":"nominal","scale":{"domain":["Lipid","Nucleic acid","Protein"],"range":["#2f9140","#6e3670","#f3e03a"]},"legend":null},
    "stroke":{"field":"grp","type":"nominal","scale":{"domain":["Lipid","Nucleic acid","Protein"],"range":["#1d6a2a","#4c2450","#a8921c"]},"legend":null}}},
  {"data":{"name":"loadLabels"},"mark":{"type":"text","fontSize":6.5,"color":"#333"},"encoding":{"x":{"field":"x","type":"quantitative"},"y":{"field":"y","type":"quantitative"},"text":{"field":"t"}}},
  {"data":{"name":"groupLabels"},"mark":{"type":"text","fontSize":10.5},"encoding":{"x":{"field":"x","type":"quantitative"},"y":{"field":"y","type":"quantitative"},"text":{"field":"t"},
    "color":{"field":"grp","type":"nominal","scale":{"domain":["Lipid","Nucleic acid","Protein"],"range":["#46b95a","#8a55a6","#f3a245"]},"legend":null}}},
  {"data":{"values":[{}]},"mark":{"type":"text","text":"C","fontSize":11,"fontWeight":"bold","align":"left","baseline":"alphabetic","color":"#111"},"encoding":{"x":{"datum":-1.447},"y":{"datum":1.756}}}
 ]}
],"spacing":50.3,"bounds":"flush","resolve":{"scale":{"color":"independent","fill":"independent","stroke":"independent","shape":"independent"}}},
{"hconcat":[
{"width":166,"height":240,
 "resolve":{"axis":{"x":"independent"}},
 "layer":[
  {"data":{"name":"tree"},"transform":[{"filter":"datum.p === 'L'"}],"mark":{"type":"rule","color":"#444","strokeWidth":1.1},
   "encoding":{
    "x":{"field":"x1","type":"quantitative","scale":{"domain":[-0.3015,1.486],"reverse":true,"nice":false,"zero":false},"axis":{"orient":"top","values":[0,0.2,0.4,0.6,0.8,1,1.2,1.4],"format":".1f","labelAngle":90,"labelAlign":"right","labelBaseline":"middle","labelFontSize":9.5,"title":"Heterogeneity","titleFontSize":10,"domain":false,"titleX":76,"titlePadding":4,"labelPadding":3,"labelOverlap":false,"tickCount":50}},
    "x2":{"field":"x2"},
    "y":{"field":"y1","type":"quantitative","scale":{"domain":[-1.089,11.983],"reverse":true,"nice":false,"zero":false},"axis":null},
    "y2":{"field":"y2"}}},
  {"data":{"values":[{}]},"mark":{"type":"rule","color":"#333"},"encoding":{"x":{"datum":1.4,"axis":null},"x2":{"datum":0},"y":{"datum":-1.089,"axis":null}}},
  {"data":{"values":[{}]},"mark":{"type":"rule","color":"#333"},"encoding":{"x":{"datum":1.48,"axis":{"orient":"bottom","values":[0.08,0.28,0.48,0.68,0.88,1.08,1.28,1.48],"labels":false,"domain":false,"title":null,"tickSize":3.5,"tickCount":50}},"x2":{"datum":0.08},"y":{"datum":11.983,"axis":null}}},
  {"data":{"name":"boxes"},"transform":[{"filter":"datum.p === 'L' && datum.g === 'A'"}],"mark":{"type":"rect","fill":{"gradient":"linear","x1":0,"y1":0,"x2":0,"y2":1,"stops":[{"offset":0,"color":"#fde9f4"},{"offset":1,"color":"#f0b3d7"}]},"stroke":"#d886bb","strokeWidth":1},"encoding":{"x":{"datum":0.045,"axis":null},"x2":{"datum":-0.288},"y":{"field":"y1","type":"quantitative","axis":null},"y2":{"field":"y2"}}},
  {"data":{"name":"boxes"},"transform":[{"filter":"datum.p === 'L' && datum.g === 'I'"}],"mark":{"type":"rect","fill":{"gradient":"linear","x1":0,"y1":0,"x2":0,"y2":1,"stops":[{"offset":0,"color":"#e1e9f7"},{"offset":1,"color":"#8aa5d6"}]},"stroke":"#4b70b6","strokeWidth":1},"encoding":{"x":{"datum":0.045,"axis":null},"x2":{"datum":-0.288},"y":{"field":"y1","type":"quantitative","axis":null},"y2":{"field":"y2"}}},
  {"data":{"name":"boxes"},"transform":[{"filter":"datum.p === 'L' && datum.g === 'S'"}],"mark":{"type":"rect","fill":{"gradient":"linear","x1":0,"y1":0,"x2":0,"y2":1,"stops":[{"offset":0,"color":"#fee6dc"},{"offset":1,"color":"#f5a18c"}]},"stroke":"#e0463d","strokeWidth":1},"encoding":{"x":{"datum":0.045,"axis":null},"x2":{"datum":-0.288},"y":{"field":"y1","type":"quantitative","axis":null},"y2":{"field":"y2"}}},
  {"data":{"name":"boxes"},"transform":[{"filter":"datum.p === 'L' && datum.g === 'C'"}],"mark":{"type":"rect","fill":{"gradient":"linear","x1":0,"y1":0,"x2":0,"y2":1,"stops":[{"offset":0,"color":"#fbfbfb"},{"offset":1,"color":"#e6e6e6"}]},"stroke":"#333","strokeWidth":1,"strokeDash":[3,2]},"encoding":{"x":{"datum":0.045,"axis":null},"x2":{"datum":-0.288},"y":{"field":"y1","type":"quantitative","axis":null},"y2":{"field":"y2"}}},
  {"data":{"name":"leaves"},"transform":[{"filter":"datum.p === 'L'"}],"mark":{"type":"text","fontSize":7.5,"color":"#333"},"encoding":{"x":{"datum":-0.121,"axis":null},"y":{"field":"i","type":"quantitative","axis":null},"text":{"field":"n"}}},
  {"data":{"values":[{}]},"mark":{"type":"rect","fill":"#22b14c","stroke":"#5cc77a","strokeWidth":1},"encoding":{"x":{"datum":1.4,"axis":null},"x2":{"datum":0.958},"y":{"datum":-0.817,"axis":null},"y2":{"datum":0.147}}},
  {"data":{"values":[{}]},"mark":{"type":"text","text":"Lipid","color":"white","fontSize":11},"encoding":{"x":{"datum":1.179,"axis":null},"y":{"datum":-0.335,"axis":null}}},
  {"data":{"values":[{}]},"mark":{"type":"text","text":"D","fontSize":11,"fontWeight":"bold","align":"left","baseline":"alphabetic","color":"#111"},"encoding":{"x":{"datum":1.594,"axis":null},"y":{"datum":-2.996,"axis":null}}}
 ]},
{"width":179,"height":240,
 "resolve":{"axis":{"x":"independent"}},
 "layer":[
  {"data":{"name":"tree"},"transform":[{"filter":"datum.p === 'P'"}],"mark":{"type":"rule","color":"#444","strokeWidth":1.1},
   "encoding":{
    "x":{"field":"x1","type":"quantitative","scale":{"domain":[-0.4134,1.899],"reverse":true,"nice":false,"zero":false},"axis":{"orient":"top","values":[0,0.2,0.4,0.6,0.8,1,1.2,1.4,1.6,1.8],"format":".1f","labelAngle":90,"labelAlign":"right","labelBaseline":"middle","labelFontSize":9.5,"title":"Heterogeneity","titleFontSize":10,"domain":false,"titleX":73,"titlePadding":4,"labelPadding":3,"labelOverlap":false,"tickCount":50}},
    "x2":{"field":"x2"},
    "y":{"field":"y1","type":"quantitative","scale":{"domain":[-1.089,11.983],"reverse":true,"nice":false,"zero":false},"axis":null},
    "y2":{"field":"y2"}}},
  {"data":{"values":[{}]},"mark":{"type":"rule","color":"#333"},"encoding":{"x":{"datum":1.8,"axis":null},"x2":{"datum":0},"y":{"datum":-1.089,"axis":null}}},
  {"data":{"values":[{}]},"mark":{"type":"rule","color":"#333"},"encoding":{"x":{"datum":1.9,"axis":{"orient":"bottom","values":[0.1,0.3,0.5,0.7,0.9,1.1,1.3,1.5,1.7,1.9],"labels":false,"domain":false,"title":null,"tickSize":3.5,"tickCount":50}},"x2":{"datum":0.1},"y":{"datum":11.983,"axis":null}}},
  {"data":{"name":"boxes"},"transform":[{"filter":"datum.p === 'P' && datum.g === 'A'"}],"mark":{"type":"rect","fill":{"gradient":"linear","x1":0,"y1":0,"x2":0,"y2":1,"stops":[{"offset":0,"color":"#fde9f4"},{"offset":1,"color":"#f0b3d7"}]},"stroke":"#d886bb","strokeWidth":1},"encoding":{"x":{"datum":0.052,"axis":null},"x2":{"datum":-0.353},"y":{"field":"y1","type":"quantitative","axis":null},"y2":{"field":"y2"}}},
  {"data":{"name":"boxes"},"transform":[{"filter":"datum.p === 'P' && datum.g === 'I'"}],"mark":{"type":"rect","fill":{"gradient":"linear","x1":0,"y1":0,"x2":0,"y2":1,"stops":[{"offset":0,"color":"#e1e9f7"},{"offset":1,"color":"#8aa5d6"}]},"stroke":"#4b70b6","strokeWidth":1},"encoding":{"x":{"datum":0.052,"axis":null},"x2":{"datum":-0.353},"y":{"field":"y1","type":"quantitative","axis":null},"y2":{"field":"y2"}}},
  {"data":{"name":"boxes"},"transform":[{"filter":"datum.p === 'P' && datum.g === 'S'"}],"mark":{"type":"rect","fill":{"gradient":"linear","x1":0,"y1":0,"x2":0,"y2":1,"stops":[{"offset":0,"color":"#fee6dc"},{"offset":1,"color":"#f5a18c"}]},"stroke":"#e0463d","strokeWidth":1},"encoding":{"x":{"datum":0.052,"axis":null},"x2":{"datum":-0.353},"y":{"field":"y1","type":"quantitative","axis":null},"y2":{"field":"y2"}}},
  {"data":{"name":"boxes"},"transform":[{"filter":"datum.p === 'P' && datum.g === 'C'"}],"mark":{"type":"rect","fill":{"gradient":"linear","x1":0,"y1":0,"x2":0,"y2":1,"stops":[{"offset":0,"color":"#fbfbfb"},{"offset":1,"color":"#e6e6e6"}]},"stroke":"#333","strokeWidth":1,"strokeDash":[3,2]},"encoding":{"x":{"datum":0.052,"axis":null},"x2":{"datum":-0.353},"y":{"field":"y1","type":"quantitative","axis":null},"y2":{"field":"y2"}}},
  {"data":{"name":"leaves"},"transform":[{"filter":"datum.p === 'P'"}],"mark":{"type":"text","fontSize":7.5,"color":"#333"},"encoding":{"x":{"datum":-0.151,"axis":null},"y":{"field":"i","type":"quantitative","axis":null},"text":{"field":"n"}}},
  {"data":{"values":[{}]},"mark":{"type":"rect","fill":"#f7941d","stroke":"#f9b264","strokeWidth":1},"encoding":{"x":{"datum":1.8,"axis":null},"x2":{"datum":1.098},"y":{"datum":-0.817,"axis":null},"y2":{"datum":0.147}}},
  {"data":{"values":[{}]},"mark":{"type":"text","text":"Protein","color":"white","fontSize":11},"encoding":{"x":{"datum":1.449,"axis":null},"y":{"datum":-0.335,"axis":null}}}
 ]},
{"width":165,"height":240,
 "resolve":{"axis":{"x":"independent"}},
 "layer":[
  {"data":{"name":"tree"},"transform":[{"filter":"datum.p === 'N'"}],"mark":{"type":"rule","color":"#444","strokeWidth":1.1},
   "encoding":{
    "x":{"field":"x1","type":"quantitative","scale":{"domain":[-0.269,1.317],"reverse":true,"nice":false,"zero":false},"axis":{"orient":"top","values":[0,0.2,0.4,0.6,0.8,1,1.2],"format":".1f","labelAngle":90,"labelAlign":"right","labelBaseline":"middle","labelFontSize":9.5,"title":"Heterogeneity","titleFontSize":10,"domain":false,"titleX":69,"titlePadding":4,"labelPadding":3,"labelOverlap":false,"tickCount":50}},
    "x2":{"field":"x2"},
    "y":{"field":"y1","type":"quantitative","scale":{"domain":[-1.089,11.983],"reverse":true,"nice":false,"zero":false},"axis":null},
    "y2":{"field":"y2"}}},
  {"data":{"values":[{}]},"mark":{"type":"rule","color":"#333"},"encoding":{"x":{"datum":1.2,"axis":null},"x2":{"datum":0},"y":{"datum":-1.089,"axis":null}}},
  {"data":{"values":[{}]},"mark":{"type":"rule","color":"#333"},"encoding":{"x":{"datum":1.28,"axis":{"orient":"bottom","values":[0.08,0.28,0.48,0.68,0.88,1.08,1.28],"labels":false,"domain":false,"title":null,"tickSize":3.5,"tickCount":50}},"x2":{"datum":0.08},"y":{"datum":11.983,"axis":null}}},
  {"data":{"name":"boxes"},"transform":[{"filter":"datum.p === 'N' && datum.g === 'A'"}],"mark":{"type":"rect","fill":{"gradient":"linear","x1":0,"y1":0,"x2":0,"y2":1,"stops":[{"offset":0,"color":"#fde9f4"},{"offset":1,"color":"#f0b3d7"}]},"stroke":"#d886bb","strokeWidth":1},"encoding":{"x":{"datum":0.045,"axis":null},"x2":{"datum":-0.263},"y":{"field":"y1","type":"quantitative","axis":null},"y2":{"field":"y2"}}},
  {"data":{"name":"boxes"},"transform":[{"filter":"datum.p === 'N' && datum.g === 'I'"}],"mark":{"type":"rect","fill":{"gradient":"linear","x1":0,"y1":0,"x2":0,"y2":1,"stops":[{"offset":0,"color":"#e1e9f7"},{"offset":1,"color":"#8aa5d6"}]},"stroke":"#4b70b6","strokeWidth":1},"encoding":{"x":{"datum":0.045,"axis":null},"x2":{"datum":-0.263},"y":{"field":"y1","type":"quantitative","axis":null},"y2":{"field":"y2"}}},
  {"data":{"name":"boxes"},"transform":[{"filter":"datum.p === 'N' && datum.g === 'S'"}],"mark":{"type":"rect","fill":{"gradient":"linear","x1":0,"y1":0,"x2":0,"y2":1,"stops":[{"offset":0,"color":"#fee6dc"},{"offset":1,"color":"#f5a18c"}]},"stroke":"#e0463d","strokeWidth":1},"encoding":{"x":{"datum":0.045,"axis":null},"x2":{"datum":-0.263},"y":{"field":"y1","type":"quantitative","axis":null},"y2":{"field":"y2"}}},
  {"data":{"name":"boxes"},"transform":[{"filter":"datum.p === 'N' && datum.g === 'C'"}],"mark":{"type":"rect","fill":{"gradient":"linear","x1":0,"y1":0,"x2":0,"y2":1,"stops":[{"offset":0,"color":"#fbfbfb"},{"offset":1,"color":"#e6e6e6"}]},"stroke":"#333","strokeWidth":1,"strokeDash":[3,2]},"encoding":{"x":{"datum":0.045,"axis":null},"x2":{"datum":-0.263},"y":{"field":"y1","type":"quantitative","axis":null},"y2":{"field":"y2"}}},
  {"data":{"name":"leaves"},"transform":[{"filter":"datum.p === 'N'"}],"mark":{"type":"text","fontSize":7.5,"color":"#333"},"encoding":{"x":{"datum":-0.109,"axis":null},"y":{"field":"i","type":"quantitative","axis":null},"text":{"field":"n"}}},
  {"data":{"values":[{}]},"mark":{"type":"rect","fill":"#7b3f8f","stroke":"#a070b0","strokeWidth":1},"encoding":{"x":{"datum":1.209,"axis":null},"x2":{"datum":0.44},"y":{"datum":-0.817,"axis":null},"y2":{"datum":0.147}}},
  {"data":{"values":[{}]},"mark":{"type":"text","text":"Nucleic acid","color":"white","fontSize":11},"encoding":{"x":{"datum":0.8245,"axis":null},"y":{"datum":-0.335,"axis":null}}}
 ]}
],"spacing":6,"bounds":"flush","resolve":{"scale":{"color":"independent","fill":"independent","stroke":"independent","shape":"independent"}}},
{"width":386.4,"height":11.3,
 "data":{"values":[{"g":"Control"},{"g":"Iberin"},{"g":"Sulforaphane"},{"g":"Alyssin"}]},
 "encoding":{"x":{"field":"g","type":"nominal","scale":{"type":"band","domain":["Control","Iberin","Sulforaphane","Alyssin"],"paddingInner":0.1,"paddingOuter":0.826,"align":1},"axis":null}},
 "layer":[
  {"transform":[{"filter":"datum.g === 'Control'"}],"mark":{"type":"rect","fill":{"gradient":"linear","x1":0,"y1":0,"x2":0,"y2":1,"stops":[{"offset":0,"color":"#fbfbfb"},{"offset":1,"color":"#e6e6e6"}]},"stroke":"#333","strokeWidth":1,"strokeDash":[3,2]}},
  {"transform":[{"filter":"datum.g === 'Iberin'"}],"mark":{"type":"rect","fill":{"gradient":"linear","x1":0,"y1":0,"x2":0,"y2":1,"stops":[{"offset":0,"color":"#e1e9f7"},{"offset":1,"color":"#8aa5d6"}]},"stroke":"#4b70b6","strokeWidth":1}},
  {"transform":[{"filter":"datum.g === 'Sulforaphane'"}],"mark":{"type":"rect","fill":{"gradient":"linear","x1":0,"y1":0,"x2":0,"y2":1,"stops":[{"offset":0,"color":"#fee6dc"},{"offset":1,"color":"#f5a18c"}]},"stroke":"#e0463d","strokeWidth":1}},
  {"transform":[{"filter":"datum.g === 'Alyssin'"}],"mark":{"type":"rect","fill":{"gradient":"linear","x1":0,"y1":0,"x2":0,"y2":1,"stops":[{"offset":0,"color":"#fde9f4"},{"offset":1,"color":"#f0b3d7"}]},"stroke":"#d886bb","strokeWidth":1}},
  {"mark":{"type":"text","fontSize":7.5,"color":"#333"},"encoding":{"text":{"field":"g"}}}
 ]}
],
"spacing":10.6,
"bounds":"full",
"resolve":{"scale":{"color":"independent","fill":"independent","stroke":"independent","shape":"independent"}}
}
